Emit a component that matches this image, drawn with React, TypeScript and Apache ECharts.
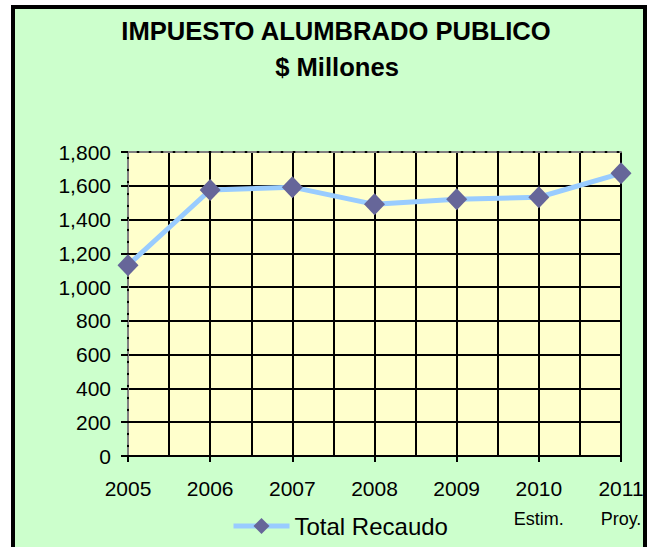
import React, { useEffect, useRef } from "react";
import * as echarts from "echarts";

const years = ["2005", "2006", "2007", "2008", "2009", "2010", "2011"];
const yearNotes = ["", "", "", "", "", "Estim.", "Proy."];
const recaudo = [1130, 1575, 1592, 1490, 1520, 1532, 1674];
const seriesName = "Total Recaudo";
const titleLines = ["IMPUESTO ALUMBRADO PUBLICO", "$ Millones"];

const FONT = "'Liberation Sans', Arial, sans-serif";

export default function App() {
  const ref = useRef<HTMLDivElement>(null);
  useEffect(() => {
    if (!ref.current) return;
    const chart = echarts.init(ref.current, undefined, { renderer: "svg" });
    const gridLeft = 128, gridTop = 152, gridW = 493, gridH = 304;
    const dashed = { color: "#808080", width: 2, type: "dashed" as const };
    const black = { color: "#000", width: 2 };
    chart.setOption({
      animation: false,
      backgroundColor: "#ffffff",
      textStyle: { fontFamily: FONT },
      graphic: [
        {
          type: "rect",
          z: -10,
          shape: { x: 13, y: 7, width: 632, height: 600 },
          style: { fill: "#CCFFCC", stroke: "#000", lineWidth: 4 },
        },
        {
          type: "text",
          z: 10,
          x: 336,
          y: 31,
          style: {
            text: titleLines[0],
            font: `bold 25.6px ${FONT}`,
            fill: "#000",
            textAlign: "center",
            textVerticalAlign: "middle",
          },
        },
        {
          type: "text",
          z: 10,
          x: 337,
          y: 67,
          style: {
            text: titleLines[1],
            font: `bold 25.6px ${FONT}`,
            fill: "#000",
            textAlign: "center",
            textVerticalAlign: "middle",
          },
        },
      ],
      grid: {
        left: gridLeft,
        top: gridTop,
        width: gridW,
        height: gridH,
        show: true,
        backgroundColor: "#FFFFCC",
        borderWidth: 0,
      },
      legend: {
        data: [seriesName],
        left: 231,
        top: 514,
        padding: 0,
        itemWidth: 56,
        itemHeight: 20,
        lineStyle: { width: 5, color: "#99CCFF" },
        textStyle: { fontSize: 24, color: "#000", fontFamily: FONT },
      },
      xAxis: [
        {
          type: "value",
          min: 0,
          max: years.length - 1,
          interval: 0.5,
          position: "bottom",
          axisLine: { show: true, lineStyle: black },
          axisTick: { show: false },
          splitLine: { show: true, lineStyle: black },
          axisLabel: {
            show: true,
            showMinLabel: true,
            showMaxLabel: true,
            margin: 17,
            fontSize: 21,
            color: "#000",
            lineHeight: 30,
            fontFamily: FONT,
            formatter: (v: number) => {
              if (Math.abs(v - Math.round(v)) > 1e-6) return "";
              const i = Math.round(v);
              const y = years[i] ?? "";
              const n = yearNotes[i];
              return n ? `${y}\n{s|${n}}` : y;
            },
            rich: {
              s: { fontSize: 18, lineHeight: 32, color: "#000", fontFamily: FONT },
            },
          },
        },
        {
          type: "value",
          min: 0,
          max: years.length - 1,
          interval: 1,
          position: "bottom",
          axisLine: { show: false },
          axisTick: { show: true, length: 6, lineStyle: black },
          splitLine: { show: false },
          axisLabel: { show: false },
        },
        {
          type: "value",
          min: 0,
          max: years.length - 1,
          interval: 1,
          position: "top",
          axisLine: { show: true, lineStyle: dashed },
          axisTick: { show: false },
          splitLine: { show: false },
          axisLabel: { show: false },
        },
      ],
      yAxis: [
        {
          type: "value",
          min: 0,
          max: 1800,
          interval: 200,
          position: "left",
          axisLine: { show: true, lineStyle: dashed },
          axisTick: { show: true, length: 7, lineStyle: black },
          splitLine: { show: true, lineStyle: black },
          axisLabel: {
            margin: 17,
            fontSize: 21,
            color: "#000",
            fontFamily: FONT,
            formatter: (v: number) => v.toLocaleString("en-US"),
          },
        },
        {
          type: "value",
          min: 0,
          max: 1800,
          interval: 200,
          position: "right",
          axisLine: { show: true, lineStyle: dashed },
          axisTick: { show: false },
          splitLine: { show: false },
          axisLabel: { show: false },
        },
      ],
      series: [
        {
          name: seriesName,
          type: "line",
          xAxisIndex: 0,
          yAxisIndex: 0,
          data: recaudo.map((v, i) => [i, v]),
          symbol: "diamond",
          symbolSize: [21, 22],
          lineStyle: { color: "#99CCFF", width: 5 },
          itemStyle: { color: "#666699" },
          z: 5,
        },
      ],
    });
    return () => chart.dispose();
  }, []);
  return (
    <div
      ref={ref}
      style={{ position: "absolute", left: 0, top: 0, width: 652, height: 547 }}
    />
  );
}
